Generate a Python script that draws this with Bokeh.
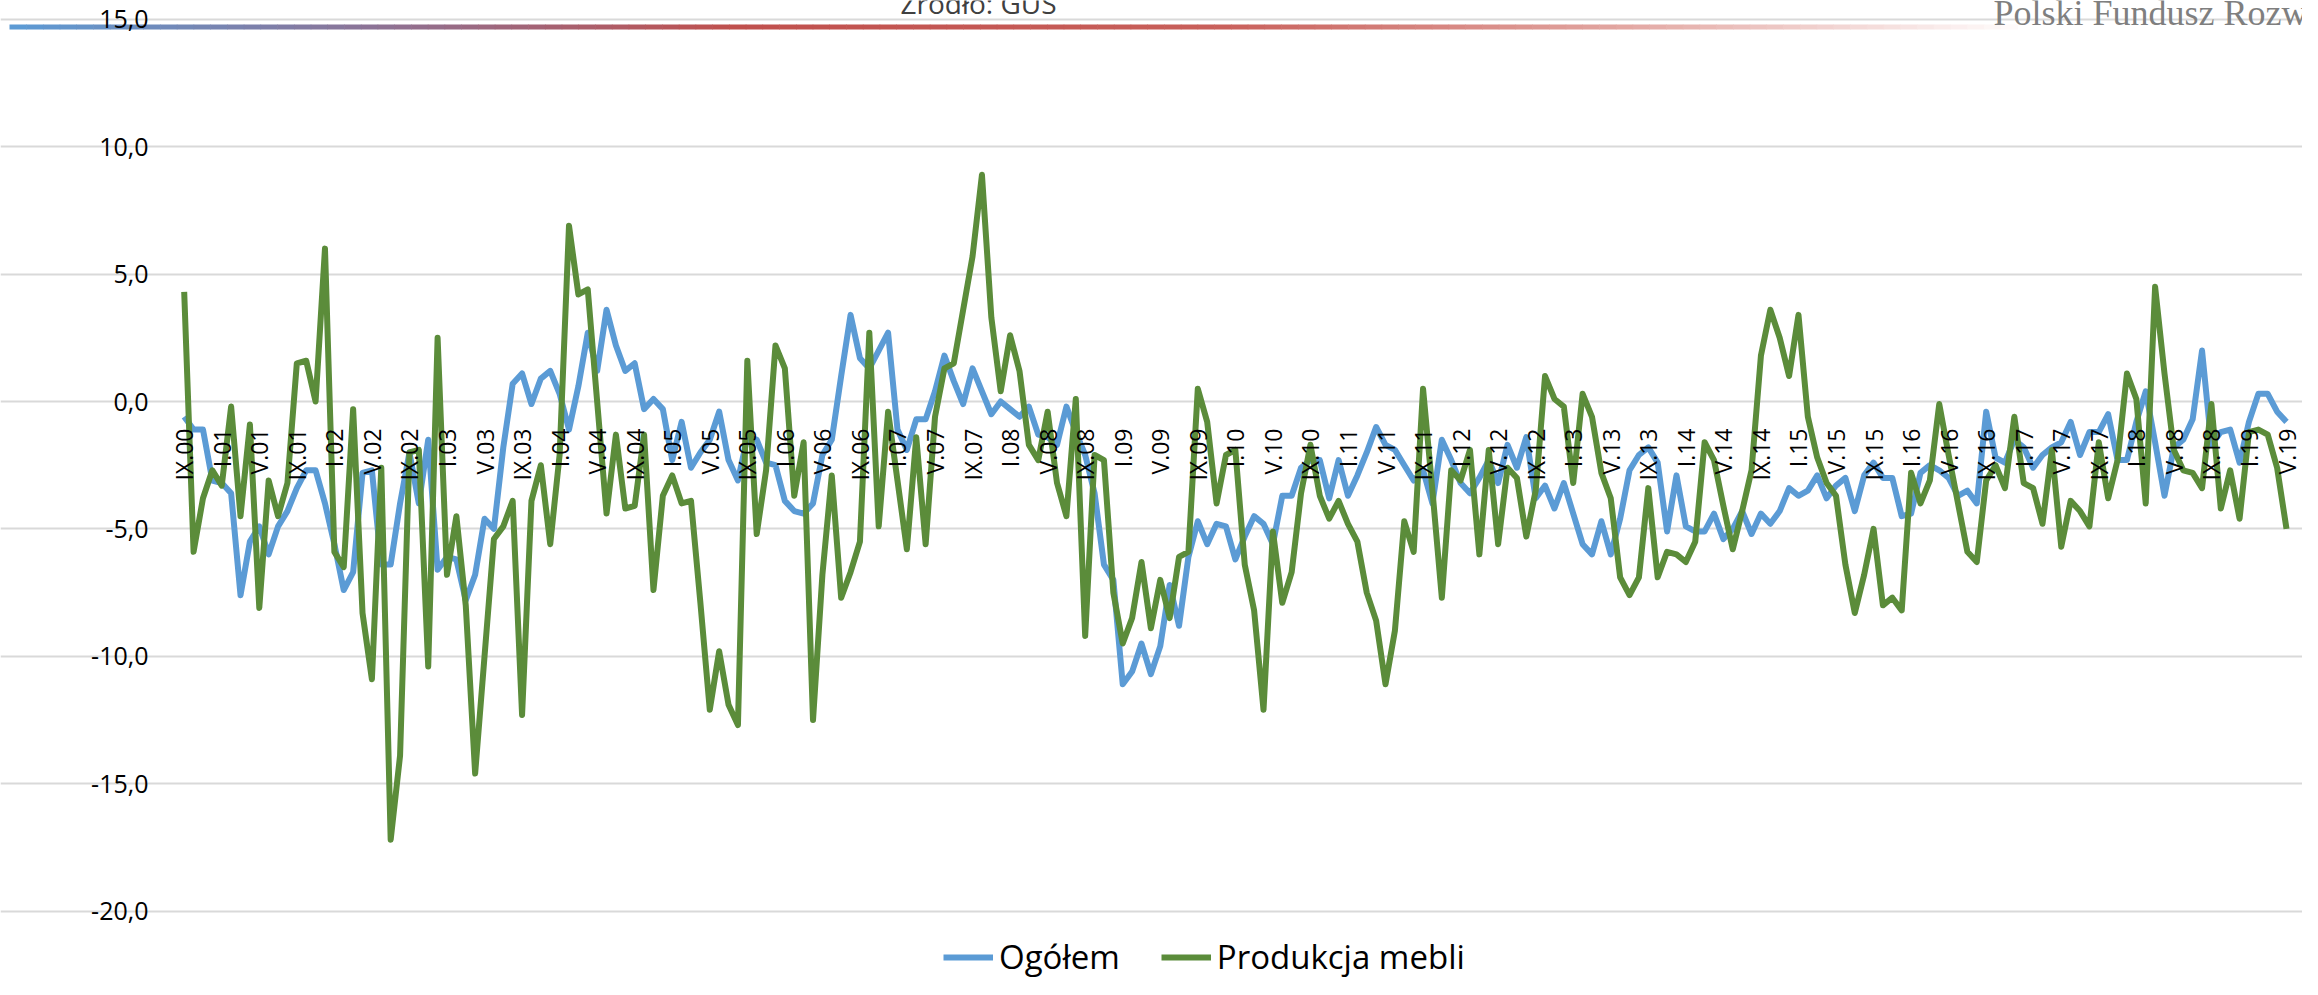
from math import pi
from bokeh.plotting import figure
from bokeh.models import (Range1d, FixedTicker, Legend, LegendItem, Label,
                          BoxAnnotation, ColumnDataSource)
from bokeh.core.properties import value
from bokeh.embed import file_html
from bokeh.resources import INLINE

# ---------------- data ----------------
month_labels = [
    "IX.00", "I.01", "V.01", "IX.01", "I.02", "V.02", "IX.02", "I.03", "V.03", "IX.03",
    "I.04", "V.04", "IX.04", "I.05", "V.05", "IX.05", "I.06", "V.06", "IX.06", "I.07",
    "V.07", "IX.07", "I.08", "V.08", "IX.08", "I.09", "V.09", "IX.09", "I.10", "V.10",
    "IX.10", "I.11", "V.11", "IX.11", "I.12", "V.12", "IX.12", "I.13", "V.13", "IX.13",
    "I.14", "V.14", "IX.14", "I.15", "V.15", "IX.15", "I.16", "V.16", "IX.16", "I.17",
    "V.17", "IX.17", "I.18", "V.18", "IX.18", "I.19", "V.19",
]
label_step = 4  # one label every 4 months

ogolem = [
    -0.6, -1.1, -1.1, -3.1, -3.2, -3.6, -7.6, -5.5, -4.9, -6.0,
    -4.9, -4.3, -3.4, -2.7, -2.7, -4.0, -5.6, -7.4, -6.7, -2.8,
    -2.7, -6.4, -6.4, -4.0, -2.0, -4.0, -1.5, -6.6, -6.1, -6.2,
    -7.8, -6.8, -4.6, -5.0, -1.8, 0.7, 1.1, -0.1, 0.9, 1.2,
    0.3, -1.1, 0.6, 2.7, 1.2, 3.6, 2.2, 1.2, 1.5, -0.3,
    0.1, -0.3, -2.3, -0.8, -2.6, -2.0, -1.5, -0.4, -2.3, -3.1,
    -1.4, -1.5, -2.4, -2.5, -3.9, -4.3, -4.4, -4.0, -2.1, -1.5,
    1.0, 3.4, 1.7, 1.3, 2.0, 2.7, -1.1, -1.9, -0.7, -0.7,
    0.4, 1.8, 0.8, -0.1, 1.3, 0.4, -0.5, 0.0, -0.3, -0.6,
    -0.2, -1.3, -1.4, -1.7, -0.2, -1.2, -2.1, -3.6, -6.4, -7.0,
    -11.1, -10.6, -9.5, -10.7, -9.6, -7.2, -8.8, -6.1, -4.7, -5.6,
    -4.8, -4.9, -6.2, -5.3, -4.5, -4.8, -5.6, -3.7, -3.7, -2.6,
    -2.3, -2.3, -3.8, -2.3, -3.7, -2.9, -2.0, -1.0, -1.7, -1.9,
    -2.5, -3.1, -2.7, -4.0, -1.5, -2.3, -3.2, -3.6, -3.0, -2.3,
    -3.2, -1.7, -2.6, -1.4, -3.8, -3.3, -4.2, -3.2, -4.4, -5.6,
    -6.0, -4.7, -6.0, -4.6, -2.7, -2.1, -1.8, -2.4, -5.1, -2.9,
    -4.9, -5.1, -5.1, -4.4, -5.4, -5.0, -4.3, -5.2, -4.4, -4.8,
    -4.3, -3.4, -3.7, -3.5, -2.9, -3.8, -3.3, -3.0, -4.3, -2.9,
    -2.4, -3.0, -3.0, -4.5, -4.4, -2.8, -2.5, -2.7, -3.0, -3.7,
    -3.5, -4.0, -0.4, -2.2, -2.4, -1.5, -1.8, -2.6, -2.1, -1.8,
    -1.6, -0.8, -2.1, -1.2, -1.2, -0.5, -2.3, -2.3, -0.8, 0.4,
    -1.6, -3.7, -1.8, -1.5, -0.7, 2.0, -1.7, -1.2, -1.1, -2.4,
    -0.8, 0.3, 0.3, -0.4, -0.8,
]

produkcja_mebli = [
    4.3, -5.9, -3.8, -2.7, -3.3, -0.2, -4.5, -0.9, -8.1, -3.1,
    -4.5, -3.2, 1.5, 1.6, 0.0, 6.0, -5.9, -6.5, -0.3, -8.3,
    -10.9, -2.6, -17.2, -13.9, -2.0, -1.9, -10.4, 2.5, -6.8, -4.5,
    -8.0, -14.6, -10.0, -5.4, -4.9, -3.9, -12.3, -3.9, -2.5, -5.6,
    -2.1, 6.9, 4.2, 4.4, 0.0, -4.4, -1.3, -4.2, -4.1, -1.3,
    -7.4, -3.7, -2.9, -4.0, -3.9, -7.9, -12.1, -9.8, -11.9, -12.7,
    1.6, -5.2, -2.7, 2.2, 1.3, -3.7, -1.6, -12.5, -6.8, -2.9,
    -7.7, -6.7, -5.5, 2.7, -4.9, -0.4, -3.1, -5.8, -1.4, -5.6,
    -0.6, 1.3, 1.5, 3.6, 5.7, 8.9, 3.3, 0.4, 2.6, 1.2,
    -1.7, -2.3, -0.4, -3.2, -4.5, 0.1, -9.2, -2.1, -2.3, -7.5,
    -9.5, -8.5, -6.3, -8.9, -7.0, -8.5, -6.1, -5.9, 0.5, -0.8,
    -4.0, -2.1, -1.9, -6.4, -8.2, -12.1, -5.1, -7.9, -6.7, -3.6,
    -1.7, -3.7, -4.6, -3.9, -4.8, -5.5, -7.5, -8.6, -11.1, -9.0,
    -4.7, -5.9, 0.5, -3.5, -7.7, -2.7, -3.1, -1.9, -6.0, -1.9,
    -5.6, -2.6, -3.0, -5.3, -3.5, 1.0, 0.1, -0.2, -3.2, 0.3,
    -0.6, -2.8, -3.8, -6.9, -7.6, -6.9, -3.4, -6.9, -5.9, -6.0,
    -6.3, -5.5, -1.6, -2.3, -4.1, -5.8, -4.3, -2.7, 1.8, 3.6,
    2.5, 1.0, 3.4, -0.6, -2.2, -3.2, -3.7, -6.4, -8.3, -6.8,
    -5.0, -8.0, -7.7, -8.2, -2.8, -4.0, -3.1, -0.1, -2.1, -4.0,
    -5.9, -6.3, -3.1, -2.5, -3.4, -0.6, -3.2, -3.4, -4.8, -1.9,
    -5.7, -3.9, -4.3, -4.9, -1.6, -3.8, -2.3, 1.1, 0.1, -4.0,
    4.5, 1.1, -1.9, -2.7, -2.8, -3.4, -0.1, -4.2, -2.7, -4.6,
    -1.2, -1.1, -1.3, -2.6, -5.0,
]

series_names = ["Ogółem", "Produkcja mebli"]
y_ticks = [-20, -15, -10, -5, 0, 5, 10, 15]
y_tick_labels = ["-20,0", "-15,0", "-10,0", "-5,0", "0,0", "5,0", "10,0", "15,0"]
source_text = "Źródło: GUS"
brand_text = "Polski Fundusz Rozwoju"

# ---------------- layout / styles ----------------
BLUE = "#5B9BD5"
GREEN = "#5B8C3A"
GRID = "#D9D9D9"
FONT = "Open Sans"

n = len(ogolem)
xs = list(range(n))

FIG_W, FIG_H = 2302, 979
FIRST_X, LAST_X = 183.7, 2286.0     # pixel columns of the first / last category
Y_TOP_PX, Y_BOT_PX = 18.8, 910.6    # pixel rows of the top / bottom gridline
YLABEL_RIGHT = 148                  # right edge of the value labels

# the frame covers the whole canvas; the ranges are chosen so that the
# categories and gridlines sit where the reference draws them
cat_w = (LAST_X - FIRST_X) / (n - 1)
ppu = (Y_BOT_PX - Y_TOP_PX) / (max(y_ticks) - min(y_ticks))
x_start = -FIRST_X / cat_w
x_end = x_start + FIG_W / cat_w
y_end = max(y_ticks) + Y_TOP_PX / ppu
y_start = min(y_ticks) - (FIG_H - Y_BOT_PX) / ppu

p = figure(width=FIG_W, height=FIG_H, output_backend="svg", toolbar_location=None,
           x_range=Range1d(x_start, x_end), y_range=Range1d(y_start, y_end),
           x_axis_location=None, y_axis_location=None,
           min_border_left=0, min_border_right=0,
           min_border_top=0, min_border_bottom=0)
p.outline_line_color = None
p.background_fill_color = "white"
p.border_fill_color = "white"

p.xgrid.visible = False
p.ygrid.ticker = FixedTicker(ticks=y_ticks)
p.ygrid.grid_line_color = GRID
p.ygrid.grid_line_width = 2
p.ygrid.bounds = (-0.5, n - 0.5)


# screen helpers (screen units are measured from the frame's bottom-left corner)
def sx(px):
    return px


def sy(py):
    return FIG_H - py


# decorative gradient bar of the slide template
stops = [(0.0, (91, 155, 213)), (0.18, (140, 115, 150)), (0.36, (192, 80, 77)),
         (0.6, (200, 95, 90)), (0.8, (226, 165, 160)), (1.0, (255, 252, 252))]
bar_left, bar_right = sx(9), sx(2017)
bar_top, bar_bottom = sy(24), sy(29)
nseg = 120
seg_w = (bar_right - bar_left) / nseg


def interp(t):
    for (t0, c0), (t1, c1) in zip(stops[:-1], stops[1:]):
        if t0 <= t <= t1:
            f = (t - t0) / (t1 - t0)
            return tuple(int(round(a + (b - a) * f)) for a, b in zip(c0, c1))
    return stops[-1][1]


for k in range(nseg):
    c = interp((k + 0.5) / nseg)
    p.add_layout(BoxAnnotation(left=bar_left + k * seg_w, right=bar_left + (k + 1) * seg_w + 0.6,
                               top=bar_top, bottom=bar_bottom,
                               left_units="screen", right_units="screen",
                               top_units="screen", bottom_units="screen",
                               fill_color="#%02x%02x%02x" % c, fill_alpha=1.0,
                               line_color=None, level="underlay"))

# data lines
r1 = p.line(xs, ogolem, line_color=BLUE, line_width=6, line_join="round")
r2 = p.line(xs, produkcja_mebli, line_color=GREEN, line_width=6, line_join="round")

# value labels (left)
ylab_src = ColumnDataSource(dict(x=[x_start + YLABEL_RIGHT / cat_w] * len(y_ticks),
                                 y=y_ticks, t=y_tick_labels))
p.text(x="x", y="y", text="t", source=ylab_src, text_align="right",
       text_baseline="middle", text_font=value(FONT), text_font_size="25px",
       text_color="black")

# category labels on the zero line
lab_src = ColumnDataSource(dict(x=list(range(0, label_step * len(month_labels), label_step)),
                                y=[0] * len(month_labels), t=month_labels))
p.text(x="x", y="y", text="t", source=lab_src, angle=pi / 2, text_align="right",
       text_baseline="middle", y_offset=27, text_font=value(FONT),
       text_font_size="23px", text_color="black")

# header texts (cut by the top edge, as in the reference)
p.add_layout(Label(x=sx(978), y=sy(2), x_units="screen", y_units="screen",
                   text=source_text, text_align="center", text_baseline="alphabetic",
                   text_font=FONT, text_font_size="28px", text_color="#404040"))
p.add_layout(Label(x=sx(1993), y=sy(12), x_units="screen", y_units="screen",
                   text=brand_text, text_align="left", text_baseline="alphabetic",
                   text_font="Liberation Serif", text_font_size="36px", text_color="#7F7F7F"))

legend = Legend(items=[LegendItem(label=series_names[0], renderers=[r1]),
                       LegendItem(label=series_names[1], renderers=[r2])],
                orientation="horizontal", location=(sx(943), 0),
                glyph_width=50, glyph_height=26, label_standoff=6, spacing=41,
                padding=0, margin=0, border_line_color=None, background_fill_alpha=0,
                label_text_font=FONT, label_text_font_size="33px", label_text_color="black")
p.add_layout(legend, "center")

open("out.html", "w").write(file_html(p, INLINE))
